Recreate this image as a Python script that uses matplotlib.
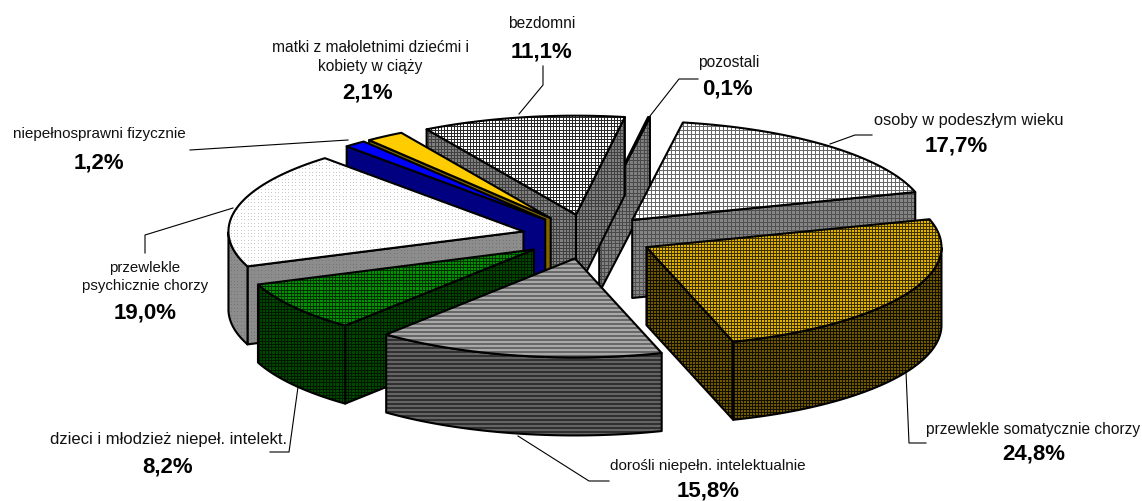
import numpy as np
import matplotlib
matplotlib.use("Agg")
import matplotlib.pyplot as plt
from matplotlib.patches import Polygon

W, H = 1142, 502
plt.rcParams['font.family'] = ['Liberation Sans', 'DejaVu Sans']

# ---- data (clockwise from the first slice) ----
categories = ["pozostali", "osoby w podeszłym wieku", "przewlekle somatycznie chorzy",
              "dorośli niepełn. intelektualnie", "dzieci i młodzież niepeł. intelekt.",
              "przewlekle\npsychicznie chorzy", "niepełnosprawni fizycznie",
              "matki z małoletnimi dziećmi i\nkobiety w ciąży", "bezdomni"]
values = [0.1, 17.7, 24.8, 15.8, 8.2, 19.0, 1.2, 2.1, 11.1]
pct_labels = ["0,1%", "17,7%", "24,8%", "15,8%", "8,2%", "19,0%", "1,2%", "2,1%", "11,1%"]

# ---- geometry of the projection ----
START = 80.46
CX, CY, RX, RY, DEPTH, EXPLODE = 588.0, 237.6, 295.0, 99.0, 78.0, 0.225

# ---- texture per slice: (kind, period, base, line) for top and side ----
STYLES = [
    (("grid", 3.6, "#808080", "#4a4a4a"), ("grid", 3.6, "#808080", "#4a4a4a")),
    (("grid", 4.0, "#ffffff", "#686868"), ("grid", 4.0, "#858585", "#505050")),
    (("grid", 3.0, "#e0b400", "#403200"), ("grid", 3.0, "#705800", "#141000")),
    (("hstripe", 4.0, "#a8a8a8", "#686868"), ("hstripe", 4.0, "#646464", "#303030")),
    (("grid", 3.2, "#009400", "#003000"), ("grid", 3.2, "#004800", "#001800")),
    (("dots", 3.4, "#ffffff", "#c8c8c8"), ("dots", 3.4, "#8c8c8c", "#747474")),
    (("solid", 1, "#0000ff", "#0000ff"), ("solid", 1, "#000080", "#000080")),
    (("solid", 1, "#ffcc00", "#ffcc00"), ("solid", 1, "#806600", "#806600")),
    (("grid", 3.2, "#ffffff", "#2a2a2a"), ("grid", 3.2, "#808080", "#404040")),
]

LABEL_POS = [(729, 62), (969, 120), (1033, 430), (708, 466), (168, 440),
             (145, 277), (99, 134), (370, 57), (542, 23)]
LABEL_SIZE = [11.2, 11.8, 11.2, 11.0, 12.0, 10.8, 11.0, 11.2, 11.2]
PCT_POS = [(727, 89), (956, 146), (1034, 454), (708, 491), (168, 467),
           (145, 313), (99, 163), (368, 93), (542, 52)]
LEADERS = [
    [(650, 117), (679, 80), (698, 80)],
    [(830, 145), (855, 136), (872, 136)],
    [(906, 373), (909, 444), (926, 444)],
    [(518, 437), (589, 482), (609, 482)],
    [(298, 388), (289, 453), (270, 453)],
    [(233, 209), (145, 236), (145, 254)],
    [(348, 141), (190, 151)],
    [],
    [(519, 115), (543, 86), (543, 67)],
]


def texture(style):
    kind, p, base, line = style
    b = np.array(matplotlib.colors.to_rgb(base))
    l = np.array(matplotlib.colors.to_rgb(line))
    yy, xx = np.mgrid[0:H, 0:W]
    mx = np.floor((xx + 1) / p) != np.floor(xx / p)
    my = np.floor((yy + 1) / p) != np.floor(yy / p)
    if kind == "grid":
        m = mx | my
    elif kind == "hstripe":
        m = (yy % p) < p / 2
    elif kind == "dots":
        m = mx & my
    else:
        m = np.zeros_like(mx)
    return b * (~m)[..., None] + l * m[..., None]


fig = plt.figure(figsize=(W / 100, H / 100), dpi=100)
ax = fig.add_axes([0, 0, 1, 1])
ax.set_xlim(0, W)
ax.set_ylim(H, 0)
ax.axis("off")

cache = {}


def face(pts, style, z):
    if style not in cache:
        cache[style] = texture(style)
    im = ax.imshow(cache[style], extent=(0, W, H, 0), interpolation="nearest",
                   aspect="auto", zorder=z)
    poly = Polygon(pts, closed=True, facecolor="none", edgecolor="black", lw=1.5,
                   joinstyle="round", zorder=z + 0.1)
    ax.add_patch(poly)
    im.set_clip_path(poly)


# angular spans, clockwise
fr = np.array(values) / sum(values) * 360.0
starts = START - np.concatenate(([0.0], np.cumsum(fr)[:-1]))
ends = starts - fr
mids = (starts + ends) / 2


def P(ap, deg, dz=0.0):
    t = np.radians(deg)
    return np.array([ap[0] + RX * np.cos(t), ap[1] - RY * np.sin(t) + dz])


# painter's order: back slices first
order = [0, 8, 1, 7, 6, 5, 4, 2, 3]

z = 2.0
for i in order:
    s, e = starts[i], ends[i]
    tm = np.radians(mids[i])
    ap = (CX + EXPLODE * RX * np.cos(tm), CY - EXPLODE * RY * np.sin(tm))
    top_st, side_st = STYLES[i]
    angs = np.linspace(s, e, max(int(abs(s - e) * 2), 3))
    for edge, vis in ((s, np.cos(np.radians(s)) < 0), (e, np.cos(np.radians(e)) > 0)):
        if vis:
            a = P(ap, edge)
            face([ap, a, a + [0, DEPTH], (ap[0], ap[1] + DEPTH)], side_st, z)
            z += 0.2
    front = angs[np.sin(np.radians(angs)) < 0]
    if len(front) > 1:
        rim = [P(ap, a) for a in front]
        base = [P(ap, a, dz=DEPTH) for a in front[::-1]]
        face(rim + base, side_st, z)
        z += 0.2
    rim = [P(ap, a) for a in angs]
    face([ap] + rim, top_st, z)
    z += 0.2

for i, name in enumerate(categories):
    ax.text(*LABEL_POS[i], name, ha="center", va="center", fontsize=LABEL_SIZE[i],
            color="#111111", linespacing=1.3, zorder=50)
    ax.text(*PCT_POS[i], pct_labels[i], ha="center", va="center", fontsize=16,
            fontweight="bold", color="black", zorder=50)
    if LEADERS[i]:
        xs, ys = zip(*LEADERS[i])
        ax.plot(xs, ys, color="black", lw=0.8, zorder=40)

fig.savefig("out.png", dpi=100, facecolor="white")
